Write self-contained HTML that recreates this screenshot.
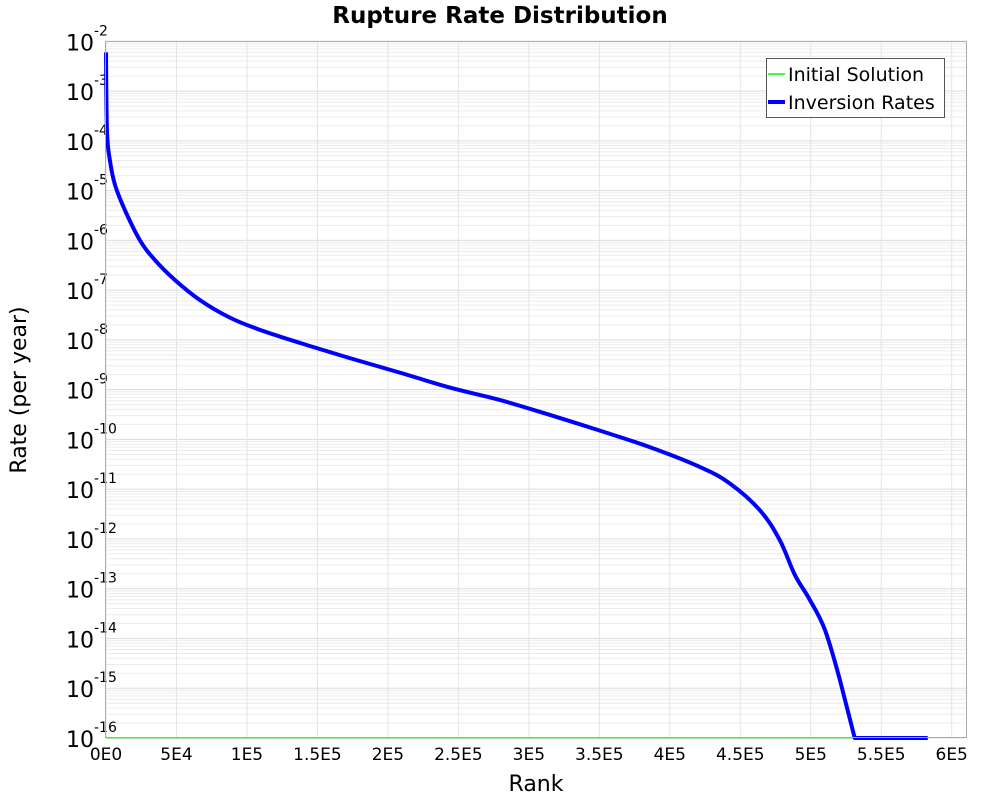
<!DOCTYPE html>
<html><head><meta charset="utf-8"><style>
body{margin:0;background:#fff;font-family:"DejaVu Sans","Liberation Sans",sans-serif}
</style></head><body>
<svg id="chart" width="1000" height="800" xmlns="http://www.w3.org/2000/svg">
<text x="500" y="23" text-anchor="middle" font-size="23" font-weight="bold">Rupture Rate Distribution</text>
<text x="536" y="791" text-anchor="middle" font-size="22">Rank</text>
<text transform="translate(26,390) rotate(-90)" text-anchor="middle" font-size="22">Rate (per year)</text>
<g id="grid"></g><g id="ticks"></g><g id="series"></g>
<rect x="105.5" y="41.5" width="861" height="696" fill="none" stroke="#aaa"/>
<g>
<rect x="766.5" y="58.5" width="178" height="59" fill="#fff" stroke="#555"/>
<line x1="768" y1="74" x2="785" y2="74" stroke="#00ff00" stroke-width="1.5"/>
<text x="788" y="81" font-size="19">Initial Solution</text>
<line x1="768" y1="102" x2="785" y2="102" stroke="#0000ff" stroke-width="4"/>
<text x="788" y="109" font-size="19">Inversion Rates</text>
</g>
</svg>
<script>
const xTicks=[0,50000,100000,150000,200000,250000,300000,350000,400000,450000,500000,550000,600000];
const xTickLabels=["0E0","5E4","1E5","1.5E5","2E5","2.5E5","3E5","3.5E5","4E5","4.5E5","5E5","5.5E5","6E5"];
const yExps=[-2,-3,-4,-5,-6,-7,-8,-9,-10,-11,-12,-13,-14,-15,-16];
const rank=[0,700,2800,6400,13500,24100,34800,48900,66700,87900,109000,137600,173000,208500,244000,279400,315000,350400,385800,421300,442600,463800,478000,488700,499300,510000,520600,531200,583000];
const rate=[6e-3,1.6e-4,4e-5,1.3e-5,4e-6,1e-6,4e-7,1.6e-7,6.3e-8,2.8e-8,1.6e-8,8.7e-9,4.3e-9,2.2e-9,1.1e-9,6.2e-10,3.1e-10,1.5e-10,7e-11,2.8e-11,1.3e-11,3.8e-12,9.5e-13,1.9e-13,6e-14,1.5e-14,1.5e-15,1e-16,1e-16];
const initRank=[0,531200];
const initRate=[1e-16,1e-16];
const X0=106,X1=966.5,Y0=41.3,Y1=738,XMAX=610500;
const xs=v=>X0+(X1-X0)*v/XMAX;
const ys=v=>{const l=Math.max(Math.log10(v),-16);return Y0+(Y1-Y0)*(-2-l)/14;};
const NS="http://www.w3.org/2000/svg";
const mk=(t,a,p)=>{const e=document.createElementNS(NS,t);for(const k in a)e.setAttribute(k,a[k]);p.appendChild(e);return e;};
const grid=document.getElementById('grid'),ticks=document.getElementById('ticks'),ser=document.getElementById('series');
for(let d=-16;d<-2;d++){for(let m=2;m<10;m++){const y=ys(m*Math.pow(10,d));
const l=mk('line',{x1:X0,x2:X1,y1:y,y2:y,stroke:'#ececec','stroke-width':1},grid);

}}
yExps.forEach(e=>{const y=ys(Math.pow(10,e));
const l=mk('line',{x1:X0,x2:X1,y1:y,y2:y,stroke:'#dcdcdc','stroke-width':1},grid);


const t=mk('text',{x:66,y:y+9,'font-size':22},ticks);


t.textContent='10';
const s=mk('tspan',{dy:-15,'font-size':14},t);s.textContent=String(e);});
xTicks.forEach((v,i)=>{const x=xs(v);
const l=mk('line',{x1:x,x2:x,y1:Y0,y2:Y1,stroke:'#e4e4e4','stroke-width':1},grid);


const t=mk('text',{x:x,y:760,'text-anchor':'middle','font-size':17},ticks);


t.textContent=xTickLabels[i];});
const p1=mk('polyline',{points:initRank.map((r,i)=>xs(r)+','+ys(initRate[i])).join(' '),fill:'none',stroke:'#7ee07e','stroke-width':1.5},ser);


const pts=rank.map((r,i)=>[xs(r),ys(rate[i])]);
let d='M'+pts[0][0]+','+pts[0][1];
for(let i=0;i<pts.length-1;i++){
 const p0=pts[Math.max(i-1,0)],a=pts[i],b=pts[i+1],p3=pts[Math.min(i+2,pts.length-1)];
 const sharp=(i>=pts.length-3);
 if(sharp){d+=' L'+b[0]+','+b[1];continue;}
 const t=0.18;
 const c1=[a[0]+(b[0]-p0[0])*t,a[1]+(b[1]-p0[1])*t],c2=[b[0]-(p3[0]-a[0])*t,b[1]-(p3[1]-a[1])*t];
 d+=' C'+c1[0]+','+c1[1]+' '+c2[0]+','+c2[1]+' '+b[0]+','+b[1];
}
const p2=mk('path',{d:d,fill:'none',stroke:'#0000ff','stroke-width':4,'stroke-linejoin':'round'},ser);


</script>
</body></html>
